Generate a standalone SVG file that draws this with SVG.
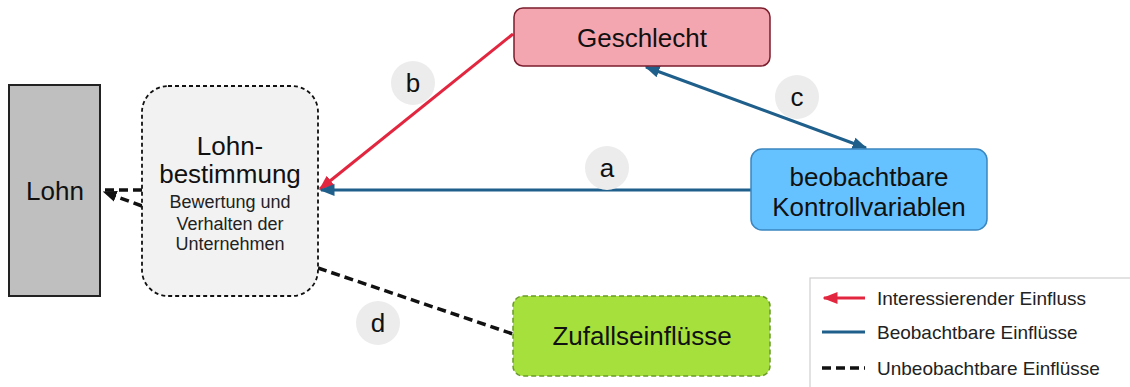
<svg xmlns="http://www.w3.org/2000/svg" width="1130" height="387" viewBox="0 0 1130 387">
<defs>
<style>
text{font-family:"Liberation Sans",Arial,sans-serif;fill:#111;text-anchor:middle}
.big{font-size:26px}
.small{font-size:18px;fill:#222}
.lbl{font-size:26px}
.leg{font-size:19px;text-anchor:start;fill:#222}
.bubble{fill:#ececec}
.red{stroke:#e3263f;stroke-width:3;fill:none}
.blue{stroke:#1f5f8b;stroke-width:3;fill:none}
.dash{stroke:#111;stroke-width:3.5;stroke-dasharray:9 5;fill:none}
</style>
<marker id="ar" viewBox="0 0 10 10" refX="9" refY="5" markerWidth="5" markerHeight="5" orient="auto-start-reverse" markerUnits="strokeWidth"><path d="M0,1 L10,5 L0,9 z" fill="#e3263f"/></marker>
<marker id="ab" viewBox="0 0 10 10" refX="9" refY="5" markerWidth="5" markerHeight="5" orient="auto-start-reverse" markerUnits="strokeWidth"><path d="M0,1 L10,5 L0,9 z" fill="#1f5f8b"/></marker>
<marker id="ak" viewBox="0 0 10 10" refX="9" refY="5" markerWidth="4" markerHeight="4" orient="auto-start-reverse" markerUnits="strokeWidth"><path d="M0,1 L10,5 L0,9 z" fill="#111"/></marker>
</defs>
<rect width="1130" height="387" fill="#fff"/>

<g id="connectors">
<path class="red" d="M513,34 L320,189" marker-end="url(#ar)"/>
<path class="blue" d="M751,190 L321,190" marker-end="url(#ab)"/>
<path class="blue" d="M646,67 L866,148" marker-start="url(#ab)" marker-end="url(#ab)"/>
<path class="dash" d="M318,268 L513,334"/>
<path class="dash" d="M142,190 L104,190"/>
<path class="dash" d="M142,206 L104,192" marker-end="url(#ak)"/>
</g>

<g id="labels">
<circle class="bubble" cx="413" cy="83" r="22"/><text class="lbl" x="413" y="92">b</text>
<circle class="bubble" cx="607" cy="168" r="22"/><text class="lbl" x="607" y="177">a</text>
<circle class="bubble" cx="797" cy="97" r="22"/><text class="lbl" x="797" y="106">c</text>
<circle class="bubble" cx="378" cy="323" r="22"/><text class="lbl" x="378" y="332">d</text>
</g>

<g id="lohn">
<rect x="9" y="85" width="91" height="211" fill="#bfbfbf" stroke="#222" stroke-width="2"/>
<text class="big" x="55" y="200">Lohn</text>
</g>

<g id="lohnbestimmung">
<rect x="142" y="86" width="176" height="210" rx="26" fill="#f2f2f2" stroke="#111" stroke-width="1.8" stroke-dasharray="4 3"/>
<text class="big" x="230" y="155">Lohn-</text>
<text class="big" x="230" y="183">bestimmung</text>
<text class="small" x="230" y="208">Bewertung und</text>
<text class="small" x="230" y="230">Verhalten der</text>
<text class="small" x="230" y="250">Unternehmen</text>
</g>

<g id="geschlecht">
<rect x="514" y="8" width="256" height="58" rx="9" fill="#f4a6b0" stroke="#7a1d2c" stroke-width="1.5"/>
<text class="big" x="642" y="47">Geschlecht</text>
</g>

<g id="kontroll">
<rect x="751" y="149" width="236" height="81" rx="11" fill="#66c2ff" stroke="#3a86c0" stroke-width="1.5"/>
<text class="big" x="869" y="186">beobachtbare</text>
<text class="big" x="869" y="216">Kontrollvariablen</text>
</g>

<g id="zufall">
<rect x="513" y="296" width="257" height="80" rx="10" fill="#a6e03c" stroke="#6a9a2a" stroke-width="1.5" stroke-dasharray="5 3"/>
<text class="big" x="642" y="345">Zufallseinflüsse</text>
</g>

<g id="legend">
<rect x="810" y="278" width="330" height="120" fill="#fff" stroke="#cfcfcf" stroke-width="1.2"/>
<path class="red" d="M865,298 L824,298" marker-end="url(#ar)"/>
<text class="leg" x="877" y="305">Interessierender Einfluss</text>
<path class="blue" d="M822,332 L865,332"/>
<text class="leg" x="877" y="339">Beobachtbare Einflüsse</text>
<path class="dash" d="M822,368 L865,368"/>
<text class="leg" x="877" y="375">Unbeobachtbare Einflüsse</text>
</g>
</svg>
